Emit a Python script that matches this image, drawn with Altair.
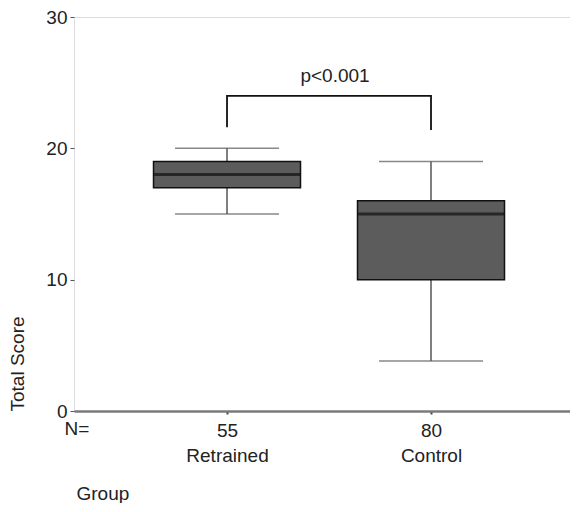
import altair as alt
import pandas as pd

groups = ["Retrained", "Control"]
ns = [55, 80]
whisker_low = [15, 3.8]
q1 = [17, 10]
medians = [18, 15]
q3 = [19, 16]
whisker_high = [20, 19]

bracket_groups = ["Retrained", "Retrained", "Control", "Control"]
bracket_y = [21.6, 24, 24, 21.4]
bracket_order = [0, 1, 2, 3]
p_label = "p<0.001"
p_y = 25.5

FONT = "Liberation Sans"
FS = 19
TXT = "#222222"

df = pd.DataFrame({
    "group": groups, "n": ns, "lo": whisker_low, "q1": q1,
    "med": medians, "q3": q3, "hi": whisker_high,
})
br = pd.DataFrame({"group": bracket_groups, "y": bracket_y, "o": bracket_order})
pt = pd.DataFrame({"group": [groups[0]], "y": [p_y], "t": [p_label]})

label_map = " : ".join(
    [f"datum.value == '{g}' ? ['{n}', '{g}']" for g, n in zip(groups, ns)] + ["[datum.value]"]
)

x_scale = alt.Scale(type="point", padding=0.7157, align=0.524)
x = alt.X(
    "group:N", sort=groups,
    scale=x_scale,
    axis=alt.Axis(
        title="Group", titleAnchor="start", titleAlign="left", titleX=2, titleY=88,
        titleBaseline="alphabetic", titleFont=FONT, titleFontSize=FS, titleFontWeight="normal",
        titleColor=TXT,
        labelExpr=label_map, labelFont=FONT, labelFontSize=FS, labelColor=TXT,
        labelLineHeight=25, labelPadding=7, labelAngle=0,
        tickSize=3, tickColor="#444", tickWidth=2,
        domain=True, domainColor="#7a7a7a", domainWidth=2.5, grid=False,
    ),
)
y_scale = alt.Scale(domain=[0, 30], nice=False, zero=True)
y_axis = alt.Axis(
    title="Total Score", titleAnchor="start", titleFont=FONT, titleFontSize=FS,
    titleFontWeight="normal", titleColor=TXT, titlePadding=18,
    values=[0, 10, 20, 30], labelFont=FONT, labelFontSize=FS, labelColor=TXT,
    labelPadding=3, tickSize=4, tickColor="#555", domain=False, grid=False,
)

base = alt.Chart(df)

whisk = base.mark_rule(color="#555555", strokeWidth=1.5).encode(
    x=x, y=alt.Y("lo:Q", scale=y_scale, axis=y_axis), y2="hi:Q"
)
cap_lo = base.mark_tick(color="#555555", size=104, thickness=1.5).encode(x=x, y="lo:Q")
cap_hi = base.mark_tick(color="#555555", size=104, thickness=1.5).encode(x=x, y="hi:Q")
box = base.mark_bar(size=147, color="#5c5c5c", stroke="#111111", strokeWidth=1.5).encode(
    x=x, y="q1:Q", y2="q3:Q"
)
med = base.mark_tick(color="#111111", size=147, thickness=3).encode(x=x, y="med:Q")

bracket = alt.Chart(br).mark_line(color="#111111", strokeWidth=1.8).encode(
    x=alt.X("group:N", sort=groups), y="y:Q", order="o:Q"
)
ptext = alt.Chart(pt).mark_text(
    font=FONT, fontSize=FS, color=TXT, dx=108, baseline="middle"
).encode(x=alt.X("group:N", sort=groups), y="y:Q", text="t:N")

nlabel = alt.Chart(pd.DataFrame({"t": ["N="]})).mark_text(
    font=FONT, fontSize=FS, color=TXT, align="center", baseline="middle"
).encode(x=alt.value(3), y=alt.value(412), text="t:N")

chart = alt.layer(whisk, cap_lo, cap_hi, box, med, bracket, ptext, nlabel).properties(
    width=496, height=394,
    padding={"left": 0, "top": 0, "right": 0, "bottom": 0},
).configure_view(
    stroke="#9a9a9a", strokeWidth=1.5
).configure(background="white")

chart.save("out.html", embed_options={"renderer": "svg", "actions": False})
